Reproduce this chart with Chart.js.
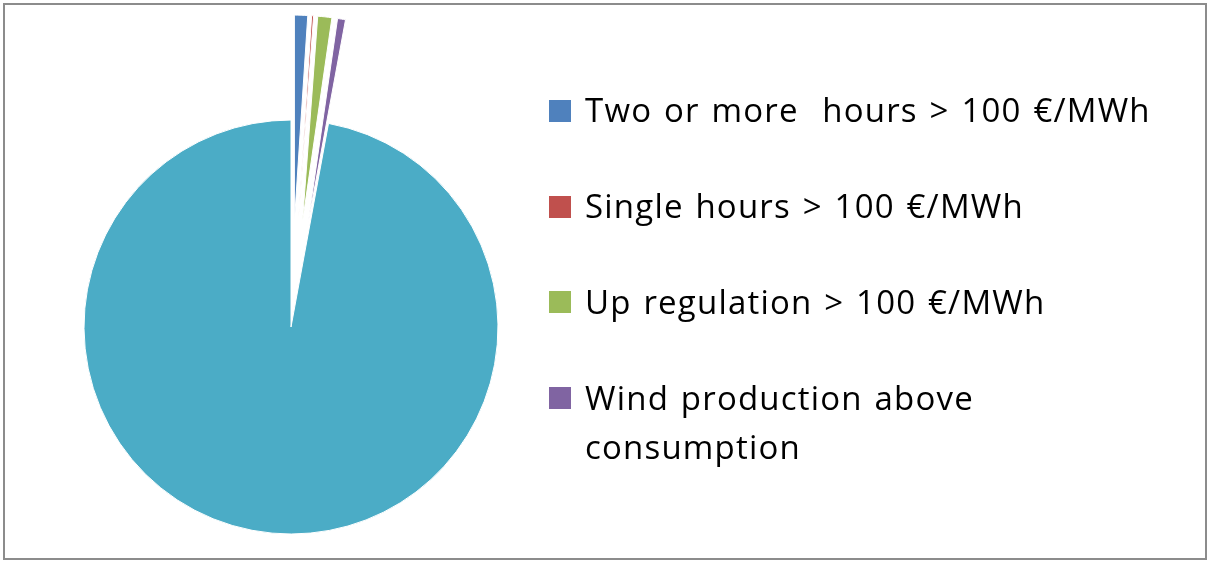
<!DOCTYPE html>
<html>
<head>
<meta charset="utf-8">
<script src="https://cdn.jsdelivr.net/npm/chart.js@4/dist/chart.umd.min.js"></script>
<style>
    body { margin: 0; background: #fff; }
    #wrap { position: relative; width: 1208px; height: 561px; overflow: hidden; }
    #frame { position: absolute; left: 3px; top: 3px; width: 1204px; height: 557px; border: 2px solid #8c8c8c; box-sizing: border-box; }
    #pie { position: absolute; left: 0; top: 0; }
    .item { position: absolute; left: 549px; display: flex; align-items: flex-start; }
    .box { width: 22px; height: 22px; margin-top: 14.6px; margin-right: 14px; flex: none; }
    .txt { font-family: "Open Sans", sans-serif; font-size: 33px; line-height: 49px; letter-spacing: 1.2px; word-spacing: 2px; color: #000; width: 590px; white-space: pre-wrap; }
</style>
</head>
<body>
<div id="wrap">
    <div id="frame"></div>
    <canvas id="pie" width="1208" height="561"></canvas>
    <div id="legend"></div>
</div>
<script>
// categories (the last one is not shown in the legend)
const categories = [
    'Two or more  hours > 100 €/MWh',
    'Single hours > 100 €/MWh',
    'Up regulation > 100 €/MWh',
    'Wind production above consumption',
    'Other hours'
];
// share of hours, in %
const shares = [1.03, 0.15, 1.10, 0.62, 97.10];
const legendCount = 4;

const colors = ['#4f81bd', '#c0504d', '#9bbb59', '#8064a2', '#4bacc6'];

//html legend
const legend = document.getElementById('legend');
categories.slice(0, legendCount).forEach((label, i) => {
    const item = document.createElement('div');
    item.className = 'item';
    item.style.top = (85.4 + i * 95.7) + 'px';
    item.innerHTML = `<div class="box" style="background:${colors[i]}"></div><div class="txt"></div>`;
    item.querySelector('.txt').textContent = label;
    legend.appendChild(item);
});

//pull the small slices out of the pie, like an exploded excel pie
const explodePlugin = {
    id: 'explode',
    afterDatasetsUpdate: function(chart) {
        const meta = chart.getDatasetMeta(0);
        meta.data.forEach((arc, i) => {
            if (i >= legendCount) { return; }
            const mid = (arc.startAngle + arc.endAngle) / 2;
            arc.x += Math.cos(mid) * 105;
            arc.y += Math.sin(mid) * 105;
        });
    }
};

const config = {
    type: 'pie',
    data: {
        labels: categories,
        datasets: [{
            data: shares,
            backgroundColor: colors,
            borderColor: '#fff',
            borderWidth: 1,
            clip: false
        }]
    },
    options: {
        responsive: false,
        animation: false,
        radius: 207,
        layout: {
            padding: { left: 20, right: 646, top: 100, bottom: 7 }
        },
        plugins: {
            legend: { display: false },
            tooltip: { enabled: false }
        }
    },
    plugins: [explodePlugin]
};

new Chart(document.getElementById('pie'), config);
</script>
</body>
</html>
